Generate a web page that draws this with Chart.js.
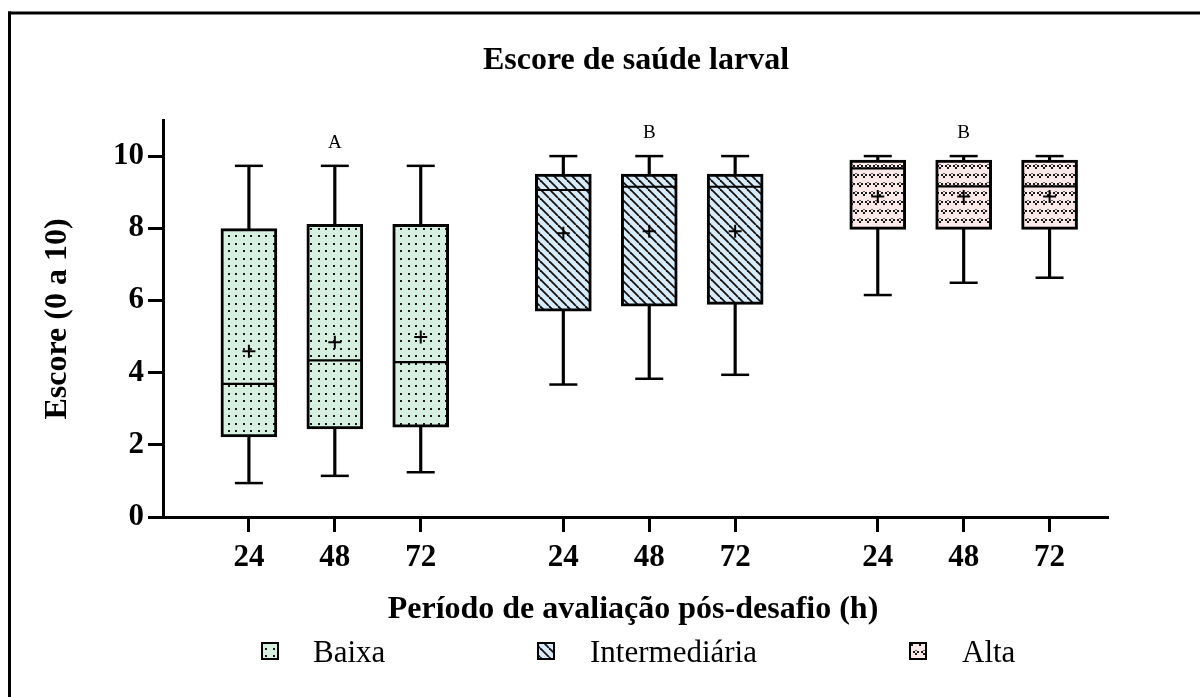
<!DOCTYPE html>
<html lang="pt">
<head>
  <meta charset="UTF-8">
  <title>Escore de saúde larval</title>
  <script src="https://cdn.jsdelivr.net/npm/chart.js"></script>
  <style>
    html, body { margin: 0; padding: 0; background: #fff; }
    #wrap { width: 1200px; height: 697px; }
  </style>
</head>
<body>
<div id="wrap"><canvas id="chart" width="1200" height="697"></canvas></div>
<script>
// --- data ---
const groups = ['Baixa', 'Intermediária', 'Alta'];
const hours = ['24', '48', '72'];
const groupLetters = ['A', 'B', 'B'];
const yTicks = [0, 2, 4, 6, 8, 10];

// one row per group, one value per hour (24, 48, 72)
const whiskerMax = [[9.73, 9.73, 9.73], [10, 10, 10], [10, 10, 10]];
const boxQ3      = [[7.99, 8.11, 8.11], [9.50, 9.50, 9.50], [9.89, 9.89, 9.89]];
const medians    = [[3.69, 4.34, 4.29], [9.06, 9.15, 9.15], [9.66, 9.16, 9.16]];
const boxQ1      = [[2.22, 2.44, 2.49], [5.70, 5.84, 5.89], [7.97, 7.97, 7.97]];
const whiskerMin = [[0.94, 1.14, 1.24], [3.67, 3.83, 3.94], [6.15, 6.49, 6.63]];
const means      = [[4.59, 4.84, 4.99], [7.86, 7.92, 7.92], [8.88, 8.88, 8.88]];

// --- layout ---
const GROUP_STRIDE = 3.66;   // gap between the three groups, in box units
const SERIF = "'Liberation Serif', 'Times New Roman', serif";
const fills = ['#d7efe0', '#d9ebf8', '#fbe8e8'];

const positions = [];
groups.forEach((g, gi) => hours.forEach((h, hi) => positions.push(gi * GROUP_STRIDE + hi)));

// fill patterns
function tile(w, h, bg, draw) {
  const c = document.createElement('canvas');
  c.width = w; c.height = h;
  const x = c.getContext('2d');
  x.fillStyle = bg;
  x.fillRect(0, 0, w, h);
  draw(x);
  return x.createPattern(c, 'repeat');
}
const patterns = [
  tile(15, 15, fills[0], x => {
    x.fillStyle = '#1a1a1a';
    [[3, 3], [10, 3], [3, 10], [10, 10]].forEach(([a, b]) => x.fillRect(a, b, 2, 2));
  }),
  tile(9, 9, fills[1], x => {
    x.strokeStyle = '#111';
    x.lineWidth = 1.8;
    [-9, 0, 9].forEach(o => { x.beginPath(); x.moveTo(o, 0); x.lineTo(o + 9, 9); x.stroke(); });
  }),
  tile(16, 18, fills[2], x => {
    const v = (cx, cy) => {
      x.fillStyle = '#1a1a1a';
      x.fillRect(cx - 3, cy - 1, 2, 2);
      x.fillRect(cx + 1, cy - 1, 2, 2);
      x.fillRect(cx - 1, cy + 1, 2, 2);
      x.fillStyle = '#666';
      x.fillRect(cx - 1, cy - 2, 2, 1);
    };
    v(4, 4); v(12, 4); v(0, 13); v(8, 13); v(16, 13);
  })
];

const flat = a => a.flat();
const pts = arr => positions.map((x, k) => ({ x, y: flat(arr)[k] }));
const perBox = list => positions.map((x, k) => list[Math.floor(k / 3)]);

const markStyle = {
  type: 'line', showLine: false, order: 1,
  borderColor: '#000', backgroundColor: '#000', pointHoverRadius: 0
};

const decorations = {
  id: 'decorations',
  afterDraw(chart) {
    const { ctx, scales: { x, y } } = chart;
    ctx.save();
    // figure frame (top and left edges)
    ctx.fillStyle = '#000';
    ctx.fillRect(8, 11.5, 1192, 3);
    ctx.fillRect(8, 11.5, 3, 686);

    ctx.fillStyle = '#000';
    ctx.textAlign = 'center';
    ctx.textBaseline = 'alphabetic';
    ctx.font = 'bold 32px ' + SERIF;
    ctx.fillText('Escore de saúde larval', 636, 69);
    ctx.fillText('Período de avaliação pós-desafio (h)', 633, 618);

    ctx.save();
    ctx.translate(58, 319);
    ctx.rotate(-Math.PI / 2);
    ctx.textBaseline = 'middle';
    ctx.fillText('Escore (0 a 10)', 0, 0);
    ctx.restore();

    // significance letters above the middle box of each group
    ctx.font = '19px ' + SERIF;
    ctx.textBaseline = 'middle';
    groups.forEach((g, gi) => {
      const px = x.getPixelForValue(gi * GROUP_STRIDE + 1);
      const py = y.getPixelForValue(Math.max(...whiskerMax[gi])) - 23;
      ctx.fillText(groupLetters[gi], px, py);
    });

    // legend
    const boxX = [261, 537, 909];
    const textX = [313, 590, 962];
    ctx.font = '31px ' + SERIF;
    ctx.textAlign = 'left';
    ctx.textBaseline = 'alphabetic';
    groups.forEach((g, gi) => {
      ctx.fillStyle = patterns[gi];
      ctx.fillRect(boxX[gi], 642, 18, 18);
      ctx.strokeStyle = '#000';
      ctx.lineWidth = 2;
      ctx.strokeRect(boxX[gi] + 1, 643, 16, 16);
      ctx.fillStyle = '#000';
      ctx.fillText(g, textX[gi], 662);
    });
    ctx.restore();
  }
};

new Chart(document.getElementById('chart'), {
  type: 'bar',
  data: {
    datasets: [
      {
        label: 'whisker',
        data: positions.map((x, k) => ({ x, y: [flat(whiskerMin)[k], flat(whiskerMax)[k]] })),
        backgroundColor: '#000', borderWidth: 0,
        barThickness: 2.5, grouped: false, order: 5
      },
      {
        label: 'box',
        data: positions.map((x, k) => ({ x, y: [flat(boxQ1)[k], flat(boxQ3)[k]] })),
        backgroundColor: perBox(patterns), borderColor: '#000', borderWidth: 3,
        borderSkipped: false, barThickness: 56, grouped: false, order: 4
      },
      { ...markStyle, label: 'median', data: pts(medians), pointStyle: 'line', pointRadius: 27, borderWidth: 2.2 },
      { ...markStyle, label: 'max', data: pts(whiskerMax), pointStyle: 'line', pointRadius: 14, borderWidth: 2.5 },
      { ...markStyle, label: 'min', data: pts(whiskerMin), pointStyle: 'line', pointRadius: 14, borderWidth: 2.5 },
      { ...markStyle, label: 'mean', data: pts(means), pointStyle: 'cross', pointRadius: 6.5, borderWidth: 2 }
    ]
  },
  options: {
    responsive: false,
    animation: false,
    events: [],
    layout: { padding: { top: 120, right: 92, bottom: 0, left: 0 } },
    plugins: { legend: { display: false }, tooltip: { enabled: false } },
    scales: {
      x: {
        type: 'linear', min: -1, max: 10, offset: false,
        afterBuildTicks: s => { s.ticks = positions.map(v => ({ value: v })); },
        afterFit: s => { s.height = 180; },
        ticks: {
          callback: (v, i) => hours[i % 3],
          autoSkip: false, maxRotation: 0, padding: 7,
          color: '#000', font: { family: SERIF, size: 31, weight: 'bold' }
        },
        grid: { offset: false, drawOnChartArea: false, drawTicks: true, tickLength: 15, tickWidth: 3, tickColor: '#000' },
        border: { color: '#000', width: 3 }
      },
      y: {
        min: 0, max: 11,
        afterBuildTicks: s => { s.ticks = yTicks.map(v => ({ value: v })); },
        afterFit: s => { s.width = 163; },
        ticks: {
          padding: 4, color: '#000',
          font: { family: SERIF, size: 31, weight: 'bold' }
        },
        grid: { drawOnChartArea: false, drawTicks: true, tickLength: 15, tickWidth: 3, tickColor: '#000' },
        border: { color: '#000', width: 3 }
      }
    }
  },
  plugins: [decorations]
});
</script>
</body>
</html>
